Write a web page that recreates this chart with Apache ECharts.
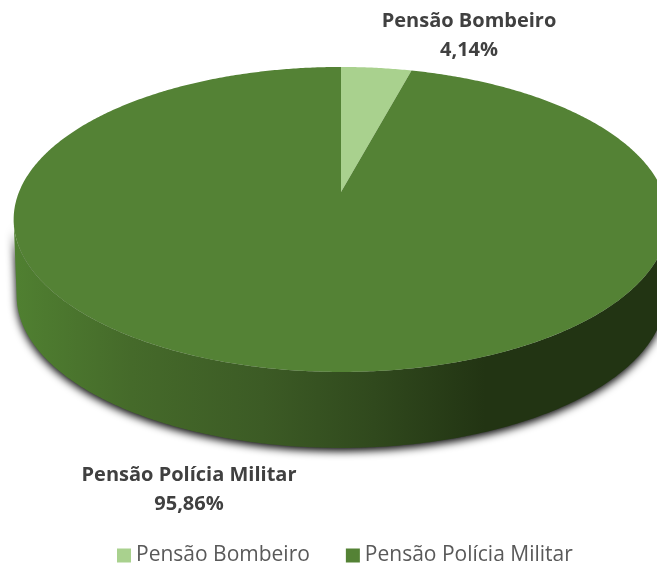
<!DOCTYPE html>
<html><head><meta charset="utf-8">
<style>html,body{margin:0;padding:0;background:#fff}#c{width:657px;height:564px}</style>
<script src="https://cdn.jsdelivr.net/npm/echarts@6/dist/echarts.min.js"></script>
</head><body><div id="c"></div>
<script>
const categories = ['Pensão Bombeiro', 'Pensão Polícia Militar'];
const values = [4.14, 95.86];
const colors = ['#A9D18E', '#548235'];
const labelPos = [[469, 21, 50], [189, 475, 504]];

// perspective disc: centre, radius, foreshortening (see projection below)
const P = {cx: 341, cy: 192, R: 322, a: 113, c: -0.18, depth: 76, shrink: 0.991};
function proj(deg, z) {
  const t = deg * Math.PI / 180, u = Math.sin(t), v = -Math.cos(t), d = 1 + P.c * v;
  const k = z ? P.shrink : 1;
  return [P.cx + k * P.R * u / d, (P.a * v + P.cy) / d + (z ? P.depth : 0)];
}
const total = values.reduce((s, x) => s + x, 0);
const FRONT = [100.4, 259.6];
function arc(from, to, z) {
  const n = Math.max(2, Math.ceil(Math.abs(to - from) * 2)), pts = [];
  for (let i = 0; i <= n; i++) pts.push(proj(from + (to - from) * i / n, z));
  return pts;
}
const wallFill = {type: 'linear', x: 14, y: 0, x2: 668, y2: 0, global: true, colorStops: [
  {offset: 0, color: '#508031'}, {offset: 0.18, color: '#456a2a'}, {offset: 0.38, color: '#3c5b25'},
  {offset: 0.55, color: '#30491d'}, {offset: 0.72, color: '#223413'}, {offset: 1, color: '#223413'}]};

function makeSeries(idx) {
  const start = values.slice(0, idx).reduce((s, x) => s + x, 0) / total * 360;
  const end = start + values[idx] / total * 360;
  return {
    type: 'custom', name: categories[idx], coordinateSystem: 'none', silent: true, animation: false,
    itemStyle: {color: colors[idx]}, data: [values[idx]], z: idx,
    renderItem() {
      const kids = [];
      const a = Math.max(start, FRONT[0]), b = Math.min(end, FRONT[1]);
      if (b > a) kids.push({type: 'polygon', z2: 1,
        shape: {points: arc(a, b, 0).concat(arc(b, a, 1))},
        style: {fill: wallFill, shadowBlur: 8, shadowColor: 'rgba(0,0,0,1)', shadowOffsetX: 0, shadowOffsetY: 3}});
      kids.push({type: 'polygon', z2: 2,
        shape: {points: [[P.cx, P.cy]].concat(arc(start, end, 0))},
        style: {fill: colors[idx]}});
      const [lx, ly1, ly2] = labelPos[idx];
      kids.push({type: 'text', z2: 3, style: {x: lx, y: ly1, text: categories[idx], fill: '#404040',
        font: 'bold 20px "Open Sans"', textAlign: 'center', textVerticalAlign: 'middle'}});
      kids.push({type: 'text', z2: 3, style: {x: lx, y: ly2, text: values[idx].toFixed(2).replace('.', ',') + '%', fill: '#404040',
        font: 'bold 20px "Open Sans"', textAlign: 'center', textVerticalAlign: 'middle'}});
      return {type: 'group', children: kids};
    }
  };
}
const chart = echarts.init(document.getElementById('c'), null, {renderer: 'canvas'});
chart.setOption({
  animation: false,
  legend: {data: categories, left: 117, top: 545, itemWidth: 14, itemHeight: 14, itemGap: 36, icon: 'rect',
    selectedMode: false, padding: 0,
    textStyle: {color: '#595959', fontSize: 21, fontFamily: 'Open Sans'}},
  series: categories.map((_, i) => makeSeries(i))
});
</script></body></html>
